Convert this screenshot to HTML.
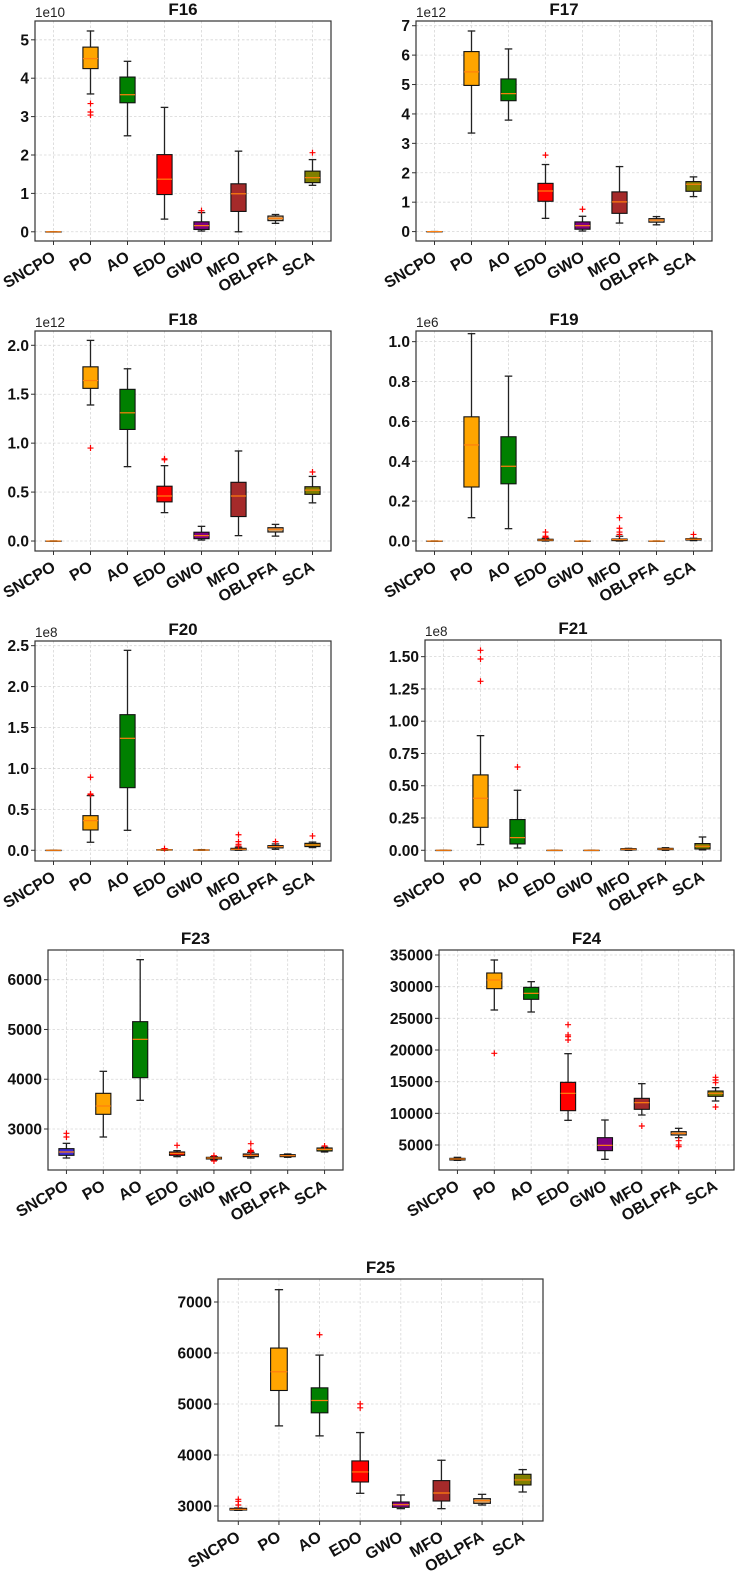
<!DOCTYPE html>
<html><head><meta charset="utf-8"><style>
html,body{margin:0;padding:0;background:#fff;}
svg{display:block;font-family:"Liberation Sans",sans-serif;}
</style></head><body>
<svg id="fig" width="737" height="1574" viewBox="0 0 737 1574" xmlns="http://www.w3.org/2000/svg"></svg>
<script>
const categories = ["SNCPO","PO","AO","EDO","GWO","MFO","OBLPFA","SCA"];
const boxColors = ["#3f2ad8","#ffa500","#008000","#ff0000","#800080","#a52a2a","#d2a36c","#808000"];

// F16 (x1e10)
const f16Low=[0,3.59,2.5,0.33,0.02,0,0.22,1.21];
const f16Q1=[0,4.25,3.36,0.97,0.06,0.53,0.29,1.28];
const f16Med=[0,4.51,3.57,1.37,0.16,0.99,0.35,1.41];
const f16Q3=[0,4.81,4.03,2.01,0.26,1.25,0.41,1.58];
const f16High=[0,5.23,4.44,3.24,0.5,2.1,0.45,1.88];
const f16Out=[[],[3.34,3.12,3.04],[],[],[0.55],[],[],[2.06]];
const f16Ticks=[0,1,2,3,4,5];
const f16TickLabels=["0","1","2","3","4","5"];
// F17 (x1e12)
const f17Low=[0,3.35,3.79,0.45,0.02,0.29,0.23,1.19];
const f17Q1=[0,4.97,4.45,1.03,0.08,0.62,0.32,1.37];
const f17Med=[0,5.43,4.69,1.38,0.2,1.01,0.39,1.61];
const f17Q3=[0,6.12,5.19,1.64,0.33,1.35,0.44,1.7];
const f17High=[0,6.82,6.21,2.28,0.52,2.21,0.51,1.86];
const f17Out=[[],[],[],[2.6],[0.76],[],[],[]];
const f17Ticks=[0,1,2,3,4,5,6,7];
const f17TickLabels=["0","1","2","3","4","5","6","7"];
// F18 (x1e12)
const f18Low=[0,1.39,0.76,0.29,0.01,0.055,0.05,0.39];
const f18Q1=[0,1.56,1.14,0.4,0.024,0.25,0.092,0.477];
const f18Med=[0,1.64,1.31,0.46,0.055,0.46,0.12,0.52];
const f18Q3=[0,1.78,1.55,0.56,0.09,0.6,0.136,0.555];
const f18High=[0,2.05,1.76,0.77,0.15,0.92,0.17,0.66];
const f18Out=[[],[0.95],[],[0.83,0.84],[],[],[],[0.705]];
const f18Ticks=[0,0.5,1,1.5,2];
const f18TickLabels=["0.0","0.5","1.0","1.5","2.0"];
// F19 (x1e6)
const f19Low=[0,0.117,0.062,0,0,0,0,0.002];
const f19Q1=[0,0.271,0.287,0.002,0,0.002,0,0.005];
const f19Med=[0,0.482,0.375,0.005,0,0.007,0,0.009];
const f19Q3=[0,0.623,0.523,0.009,0,0.01,0,0.012];
const f19High=[0,1.04,0.827,0.014,0,0.024,0,0.014];
const f19Out=[[],[],[],[0.045,0.024,0.019],[],[0.117,0.064,0.045,0.033],[],[0.033]];
const f19Ticks=[0,0.2,0.4,0.6,0.8,1.0];
const f19TickLabels=["0.0","0.2","0.4","0.6","0.8","1.0"];
// F20 (x1e8)
const f20Low=[0,0.098,0.244,0,0,0,0.012,0.033];
const f20Q1=[0,0.248,0.765,0.002,0.001,0.004,0.029,0.045];
const f20Med=[0,0.362,1.368,0.005,0.003,0.012,0.045,0.065];
const f20Q3=[0,0.423,1.657,0.008,0.005,0.024,0.057,0.085];
const f20High=[0,0.668,2.443,0.012,0.008,0.037,0.077,0.1];
const f20Out=[[],[0.892,0.688,0.68],[],[0.02],[],[0.19,0.106,0.073,0.053],[0.106],[0.175]];
const f20Ticks=[0,0.5,1,1.5,2,2.5];
const f20TickLabels=["0.0","0.5","1.0","1.5","2.0","2.5"];
// F21 (x1e8)
const f21Low=[0,0.044,0.018,0,0,0,0,0.003];
const f21Q1=[0,0.178,0.049,0,0,0.003,0.005,0.01];
const f21Med=[0,0.403,0.098,0,0,0.008,0.01,0.031];
const f21Q3=[0,0.584,0.238,0,0,0.013,0.015,0.052];
const f21High=[0,0.888,0.465,0,0,0.015,0.02,0.103];
const f21Out=[[],[1.549,1.482,1.309],[0.645],[],[],[],[],[]];
const f21Ticks=[0,0.25,0.5,0.75,1,1.25,1.5];
const f21TickLabels=["0.00","0.25","0.50","0.75","1.00","1.25","1.50"];
// F23
const f23Low=[2417,2839,3576,2444,2377,2417,2431,2538];
const f23Q1=[2471,3295,4031,2471,2397,2444,2444,2558];
const f23Med=[2538,3462,4802,2511,2417,2471,2464,2591];
const f23Q3=[2605,3717,5157,2538,2431,2498,2484,2618];
const f23High=[2712,4159,6403,2565,2444,2531,2498,2632];
const f23Out=[[2913,2839],[],[],[2672],[2464,2357],[2705,2571,2545],[],[2658]];
const f23Ticks=[3000,4000,5000,6000];
const f23TickLabels=["3000","4000","5000","6000"];
// F24
const f24Low=[2579,26316,26000,8895,2737,9737,6158,11947];
const f24Q1=[2632,29684,28000,10421,4105,10632,6579,12684];
const f24Med=[2789,31053,28947,13158,4947,11684,6842,13158];
const f24Q3=[2895,32158,29895,14895,6158,12368,7105,13526];
const f24High=[3053,34211,30789,19421,8947,14684,7632,14053];
const f24Out=[[],[19474],[],[24000,22368,22105,21579],[],[8000],[5684,5000,4737],[15684,15263,14842,11000]];
const f24Ticks=[5000,10000,15000,20000,25000,30000,35000];
const f24TickLabels=["5000","10000","15000","20000","25000","30000","35000"];
// F25
const f25Low=[2915,4571,4375,3249,2948,2948,3020,3275];
const f25Q1=[2921,5265,4827,3471,2974,3098,3052,3412];
const f25Med=[2935,5632,5069,3668,3026,3255,3105,3511];
const f25Q3=[2954,6097,5317,3884,3079,3498,3144,3622];
const f25High=[2961,7242,5959,4440,3216,3897,3229,3714];
const f25Out=[[3131,3092,3020],[],[6358],[5003,4925],[],[],[],[]];
const f25Ticks=[3000,4000,5000,6000,7000];
const f25TickLabels=["3000","4000","5000","6000","7000"];

const panels = [
 {id:"f16",title:"F16",off:"1e10",L:35,T:21,R:331,B:241,ymin:-0.24,ymax:5.49,lo:f16Low,q1:f16Q1,med:f16Med,q3:f16Q3,hi:f16High,out:f16Out,ticks:f16Ticks,tl:f16TickLabels},
 {id:"f17",title:"F17",off:"1e12",L:416,T:21,R:712,B:241,ymin:-0.32,ymax:7.16,lo:f17Low,q1:f17Q1,med:f17Med,q3:f17Q3,hi:f17High,out:f17Out,ticks:f17Ticks,tl:f17TickLabels},
 {id:"f18",title:"F18",off:"1e12",L:35,T:331,R:331,B:551,ymin:-0.102,ymax:2.146,lo:f18Low,q1:f18Q1,med:f18Med,q3:f18Q3,hi:f18High,out:f18Out,ticks:f18Ticks,tl:f18TickLabels},
 {id:"f19",title:"F19",off:"1e6",L:416,T:331,R:712,B:551,ymin:-0.05,ymax:1.0534,lo:f19Low,q1:f19Q1,med:f19Med,q3:f19Q3,hi:f19High,out:f19Out,ticks:f19Ticks,tl:f19TickLabels},
 {id:"f20",title:"F20",off:"1e8",L:35,T:641,R:331,B:861,ymin:-0.131,ymax:2.557,lo:f20Low,q1:f20Q1,med:f20Med,q3:f20Q3,hi:f20High,out:f20Out,ticks:f20Ticks,tl:f20TickLabels},
 {id:"f21",title:"F21",off:"1e8",L:425,T:640,R:721,B:861,ymin:-0.083,ymax:1.629,lo:f21Low,q1:f21Q1,med:f21Med,q3:f21Q3,hi:f21High,out:f21Out,ticks:f21Ticks,tl:f21TickLabels},
 {id:"f23",title:"F23",off:"",L:48,T:950,R:343,B:1170,ymin:2176,ymax:6597,lo:f23Low,q1:f23Q1,med:f23Med,q3:f23Q3,hi:f23High,out:f23Out,ticks:f23Ticks,tl:f23TickLabels},
 {id:"f24",title:"F24",off:"",L:439,T:950,R:734,B:1170,ymin:1053,ymax:35789,lo:f24Low,q1:f24Q1,med:f24Med,q3:f24Q3,hi:f24High,out:f24Out,ticks:f24Ticks,tl:f24TickLabels},
 {id:"f25",title:"F25",off:"",L:218,T:1279,R:543,B:1521,ymin:2706,ymax:7451,lo:f25Low,q1:f25Q1,med:f25Med,q3:f25Q3,hi:f25High,out:f25Out,ticks:f25Ticks,tl:f25TickLabels}
];

const NS="http://www.w3.org/2000/svg";
const svg=document.getElementById("fig");
function mk(tag,attrs,parent){const e=document.createElementNS(NS,tag);for(const k in attrs)e.setAttribute(k,attrs[k]);(parent||svg).appendChild(e);return e;}

panels.forEach(p=>{
  const g=mk("g",{});
  
  
  const n=categories.length, sp=(p.R-p.L)/n;
  const xAt=i=>p.L+sp*(i+0.5);
  const yAt=v=>p.B-(v-p.ymin)/(p.ymax-p.ymin)*(p.B-p.T);
  p.ticks.forEach((t,i)=>{
    const y=yAt(t);
    const gl=mk("line",{x1:p.L,x2:p.R,y1:y,y2:y,stroke:"#d6d6d6","stroke-width":0.8,"stroke-dasharray":"2.5,2"},g);
    
    
    const tk=mk("line",{x1:p.L-4,x2:p.L,y1:y,y2:y,stroke:"#333","stroke-width":1},g);
    
    
    const tx=mk("text",{x:p.L-6,y:y+5.5,"text-anchor":"end","font-size":15.5,"font-weight":"bold",fill:"#111"},g);
    tx.textContent=p.tl[i];
    
    
  });
  categories.forEach((c,i)=>{
    const x=xAt(i);
    const gl=mk("line",{x1:x,x2:x,y1:p.T,y2:p.B,stroke:"#d6d6d6","stroke-width":0.8,"stroke-dasharray":"2.5,2"},g);
    
    
    const tk=mk("line",{x1:x,x2:x,y1:p.B,y2:p.B+4,stroke:"#333","stroke-width":1},g);
    
    
    const tx=mk("text",{x:x+3,y:p.B+19,"text-anchor":"end","font-size":16,"font-weight":"bold",fill:"#111",transform:`rotate(-30 ${x+3} ${p.B+19})`},g);
    tx.textContent=c;
    
    
  });
  const bw=sp*0.41, cw=bw*0.5;
  categories.forEach((c,i)=>{
    const x=xAt(i);
    const bg=mk("g",{},g);
    
    
    const yl=yAt(p.lo[i]), y1=yAt(p.q1[i]), ym=yAt(p.med[i]), y3=yAt(p.q3[i]), yh=yAt(p.hi[i]);
    mk("line",{x1:x,x2:x,y1:y1,y2:yl,stroke:"#222","stroke-width":1.3},bg);
    mk("line",{x1:x,x2:x,y1:y3,y2:yh,stroke:"#222","stroke-width":1.3},bg);
    mk("line",{x1:x-cw/2,x2:x+cw/2,y1:yl,y2:yl,stroke:"#222","stroke-width":1.3},bg);
    mk("line",{x1:x-cw/2,x2:x+cw/2,y1:yh,y2:yh,stroke:"#222","stroke-width":1.3},bg);
    mk("rect",{x:x-bw/2,y:y3,width:bw,height:Math.max(0.3,y1-y3),fill:boxColors[i],stroke:"#111","stroke-width":1.1},bg);
    mk("line",{x1:x-bw/2,x2:x+bw/2,y1:ym,y2:ym,stroke:"#ff7f0e","stroke-width":1.2},bg);
    p.out[i].forEach(v=>{
      const yo=yAt(v);
      const o=mk("path",{d:`M${x-3},${yo}H${x+3}M${x},${yo-3}V${yo+3}`,stroke:"#ff0000","stroke-width":1.2,fill:"none"},bg);
      
      
    });
  });
  const fr=mk("rect",{x:p.L,y:p.T,width:p.R-p.L,height:p.B-p.T,fill:"none",stroke:"#333","stroke-width":1.2},g);
  
  
  const t=mk("text",{x:(p.L+p.R)/2,y:p.T-6,"text-anchor":"middle","font-size":17,"font-weight":"bold",fill:"#111"},g);
  t.textContent=p.title;
  
  
  if(p.off){
    const o=mk("text",{x:p.L,y:p.T-4,"font-size":13.5,fill:"#222"},g);
    o.textContent=p.off;
    
    
  }
});
</script>
</body></html>
